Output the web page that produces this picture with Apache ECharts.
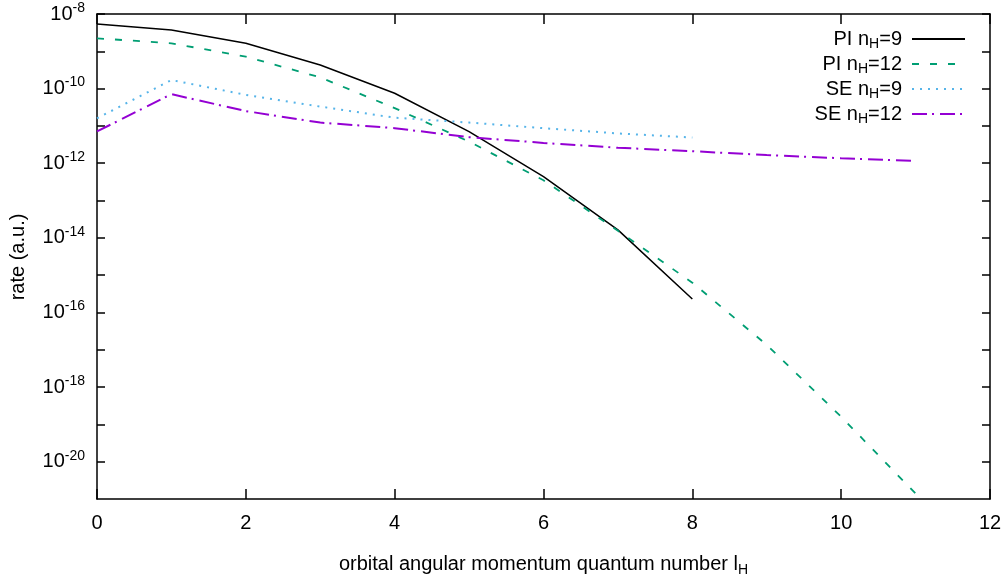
<!DOCTYPE html>
<html><head><meta charset="utf-8">
<script src="https://cdn.jsdelivr.net/npm/echarts@6/dist/echarts.min.js"></script>
<style>html,body{margin:0;padding:0;background:#fff}#c{width:1008px;height:582px}</style>
</head><body><div id="c"></div>
<script>
const lH9 = [0, 1, 2, 3, 4, 5, 6, 7, 8];
const lH12 = [0, 1, 2, 3, 4, 5, 6, 7, 8, 9, 10, 11];
const piN9 = [5.4e-9, 3.7e-9, 1.64e-9, 4.3e-10, 7.5e-11, 7.0e-12, 4.4e-13, 1.64e-14, 2.3e-16];
const piN12 = [2.23e-9, 1.64e-9, 7.2e-10, 2.0e-10, 3.0e-11, 3.8e-12, 3.5e-13, 1.55e-14, 6.3e-16, 1.35e-17, 1.6e-19, 1.4e-21];
const seN9 = [1.6e-11, 1.7e-10, 6.8e-11, 3.3e-11, 1.66e-11, 1.23e-11, 8.7e-12, 6.3e-12, 4.9e-12];
const seN12 = [7.1e-12, 7.1e-11, 2.5e-11, 1.23e-11, 8.7e-12, 5.0e-12, 3.5e-12, 2.6e-12, 2.1e-12, 1.66e-12, 1.36e-12, 1.15e-12];
const seriesNames = ['PI nH=9', 'PI nH=12', 'SE nH=9', 'SE nH=12'];
const legendLabels = ['PI n{s|H}=9', 'PI n{s|H}=12', 'SE n{s|H}=9', 'SE n{s|H}=12'];
const xTitle = 'orbital angular momentum quantum number l{s|H}';
const yTitle = 'rate (a.u.)';

const FONT = 'Liberation Sans';
const pair = (xs, ys) => xs.map((x, i) => [x, ys[i]]);
const chart = echarts.init(document.getElementById('c'));
const axisLine = {show: true, onZero: false, lineStyle: {color: '#000', width: 1.5}};
const yLabel = v => {
  const e = Math.round(Math.log10(v));
  if (e % 2 !== 0) return '';
  return '{n|10}{e|' + e + '}';
};
const yRich = {
  n: {fontFamily: FONT, fontSize: 20, color: '#000'},
  e: {fontFamily: FONT, fontSize: 14, color: '#000', padding: [0, 0, 12, 0]}
};
chart.setOption({
  animation: false,
  grid: {left: 97, right: 18, top: 14, bottom: 83, outerBoundsMode: 'none'},
  graphic: [{
    type: 'text', x: 18, y: 257, rotation: Math.PI / 2,
    style: {text: yTitle, fontFamily: FONT, fontSize: 20, fill: '#000',
      textAlign: 'center', textVerticalAlign: 'middle', align: 'center', verticalAlign: 'middle'}
  }],
  legend: {
    orient: 'vertical', right: 42, top: 29, align: 'right', padding: 0,
    itemWidth: 53, itemHeight: 14, itemGap: 3,
    data: seriesNames,
    itemStyle: {color: 'rgba(0,0,0,0)', borderColor: 'rgba(0,0,0,0)', borderWidth: 0},
    formatter: name => legendLabels[seriesNames.indexOf(name)],
    textStyle: {fontFamily: FONT, fontSize: 20, color: '#000', padding: [0, 5, 0, 0],
      rich: {s: {fontFamily: FONT, fontSize: 14, padding: [10, 0, 0, 0]}}}
  },
  xAxis: [
    {type: 'value', min: 0, max: 12, interval: 2, position: 'bottom',
     name: xTitle, nameLocation: 'middle', nameGap: 52,
     nameTextStyle: {fontFamily: FONT, fontSize: 20, color: '#000',
       rich: {s: {fontFamily: FONT, fontSize: 14, padding: [12, 0, 0, 0]}}},
     axisLine: axisLine, splitLine: {show: false},
     axisTick: {inside: true, length: 10, lineStyle: {color: '#000', width: 1.5}},
     axisLabel: {fontFamily: FONT, fontSize: 20, color: '#000', margin: 14}},
    {type: 'value', min: 0, max: 12, interval: 2, position: 'top',
     axisLine: axisLine, splitLine: {show: false},
     axisTick: {inside: true, length: 10, lineStyle: {color: '#000', width: 1.5}},
     axisLabel: {show: false}}
  ],
  yAxis: [
    {type: 'log', min: 1e-21, max: 1e-8, logBase: 10, interval: 1, position: 'left',
      splitLine: {show: false}, axisLine: axisLine,
      axisTick: {inside: true, length: 8, lineStyle: {color: '#000', width: 1.5}},
      axisLabel: {formatter: yLabel, rich: yRich, margin: 12}},
    {type: 'log', min: 1e-21, max: 1e-8, logBase: 10, interval: 1, position: 'right',
      splitLine: {show: false}, axisLine: axisLine,
      axisTick: {inside: true, length: 8, lineStyle: {color: '#000', width: 1.5}},
      axisLabel: {show: false}}
  ],
  series: [
    {name: seriesNames[0], type: 'line', data: pair(lH9, piN9), symbol: 'none',
     lineStyle: {color: '#000', width: 1.5}, itemStyle: {color: '#000'}},
    {name: seriesNames[1], type: 'line', data: pair(lH12, piN12), symbol: 'none',
     lineStyle: {color: '#009e73', width: 1.8, type: [7, 11]}, itemStyle: {color: '#009e73'}},
    {name: seriesNames[2], type: 'line', data: pair(lH9, seN9), symbol: 'none',
     lineStyle: {color: '#56b4e9', width: 2, type: [2, 6]}, itemStyle: {color: '#56b4e9'}},
    {name: seriesNames[3], type: 'line', data: pair(lH12, seN12), symbol: 'none',
     lineStyle: {color: '#9400d3', width: 2, type: [15, 5, 2, 6]}, itemStyle: {color: '#9400d3'}}
  ]
});
</script></body></html>
